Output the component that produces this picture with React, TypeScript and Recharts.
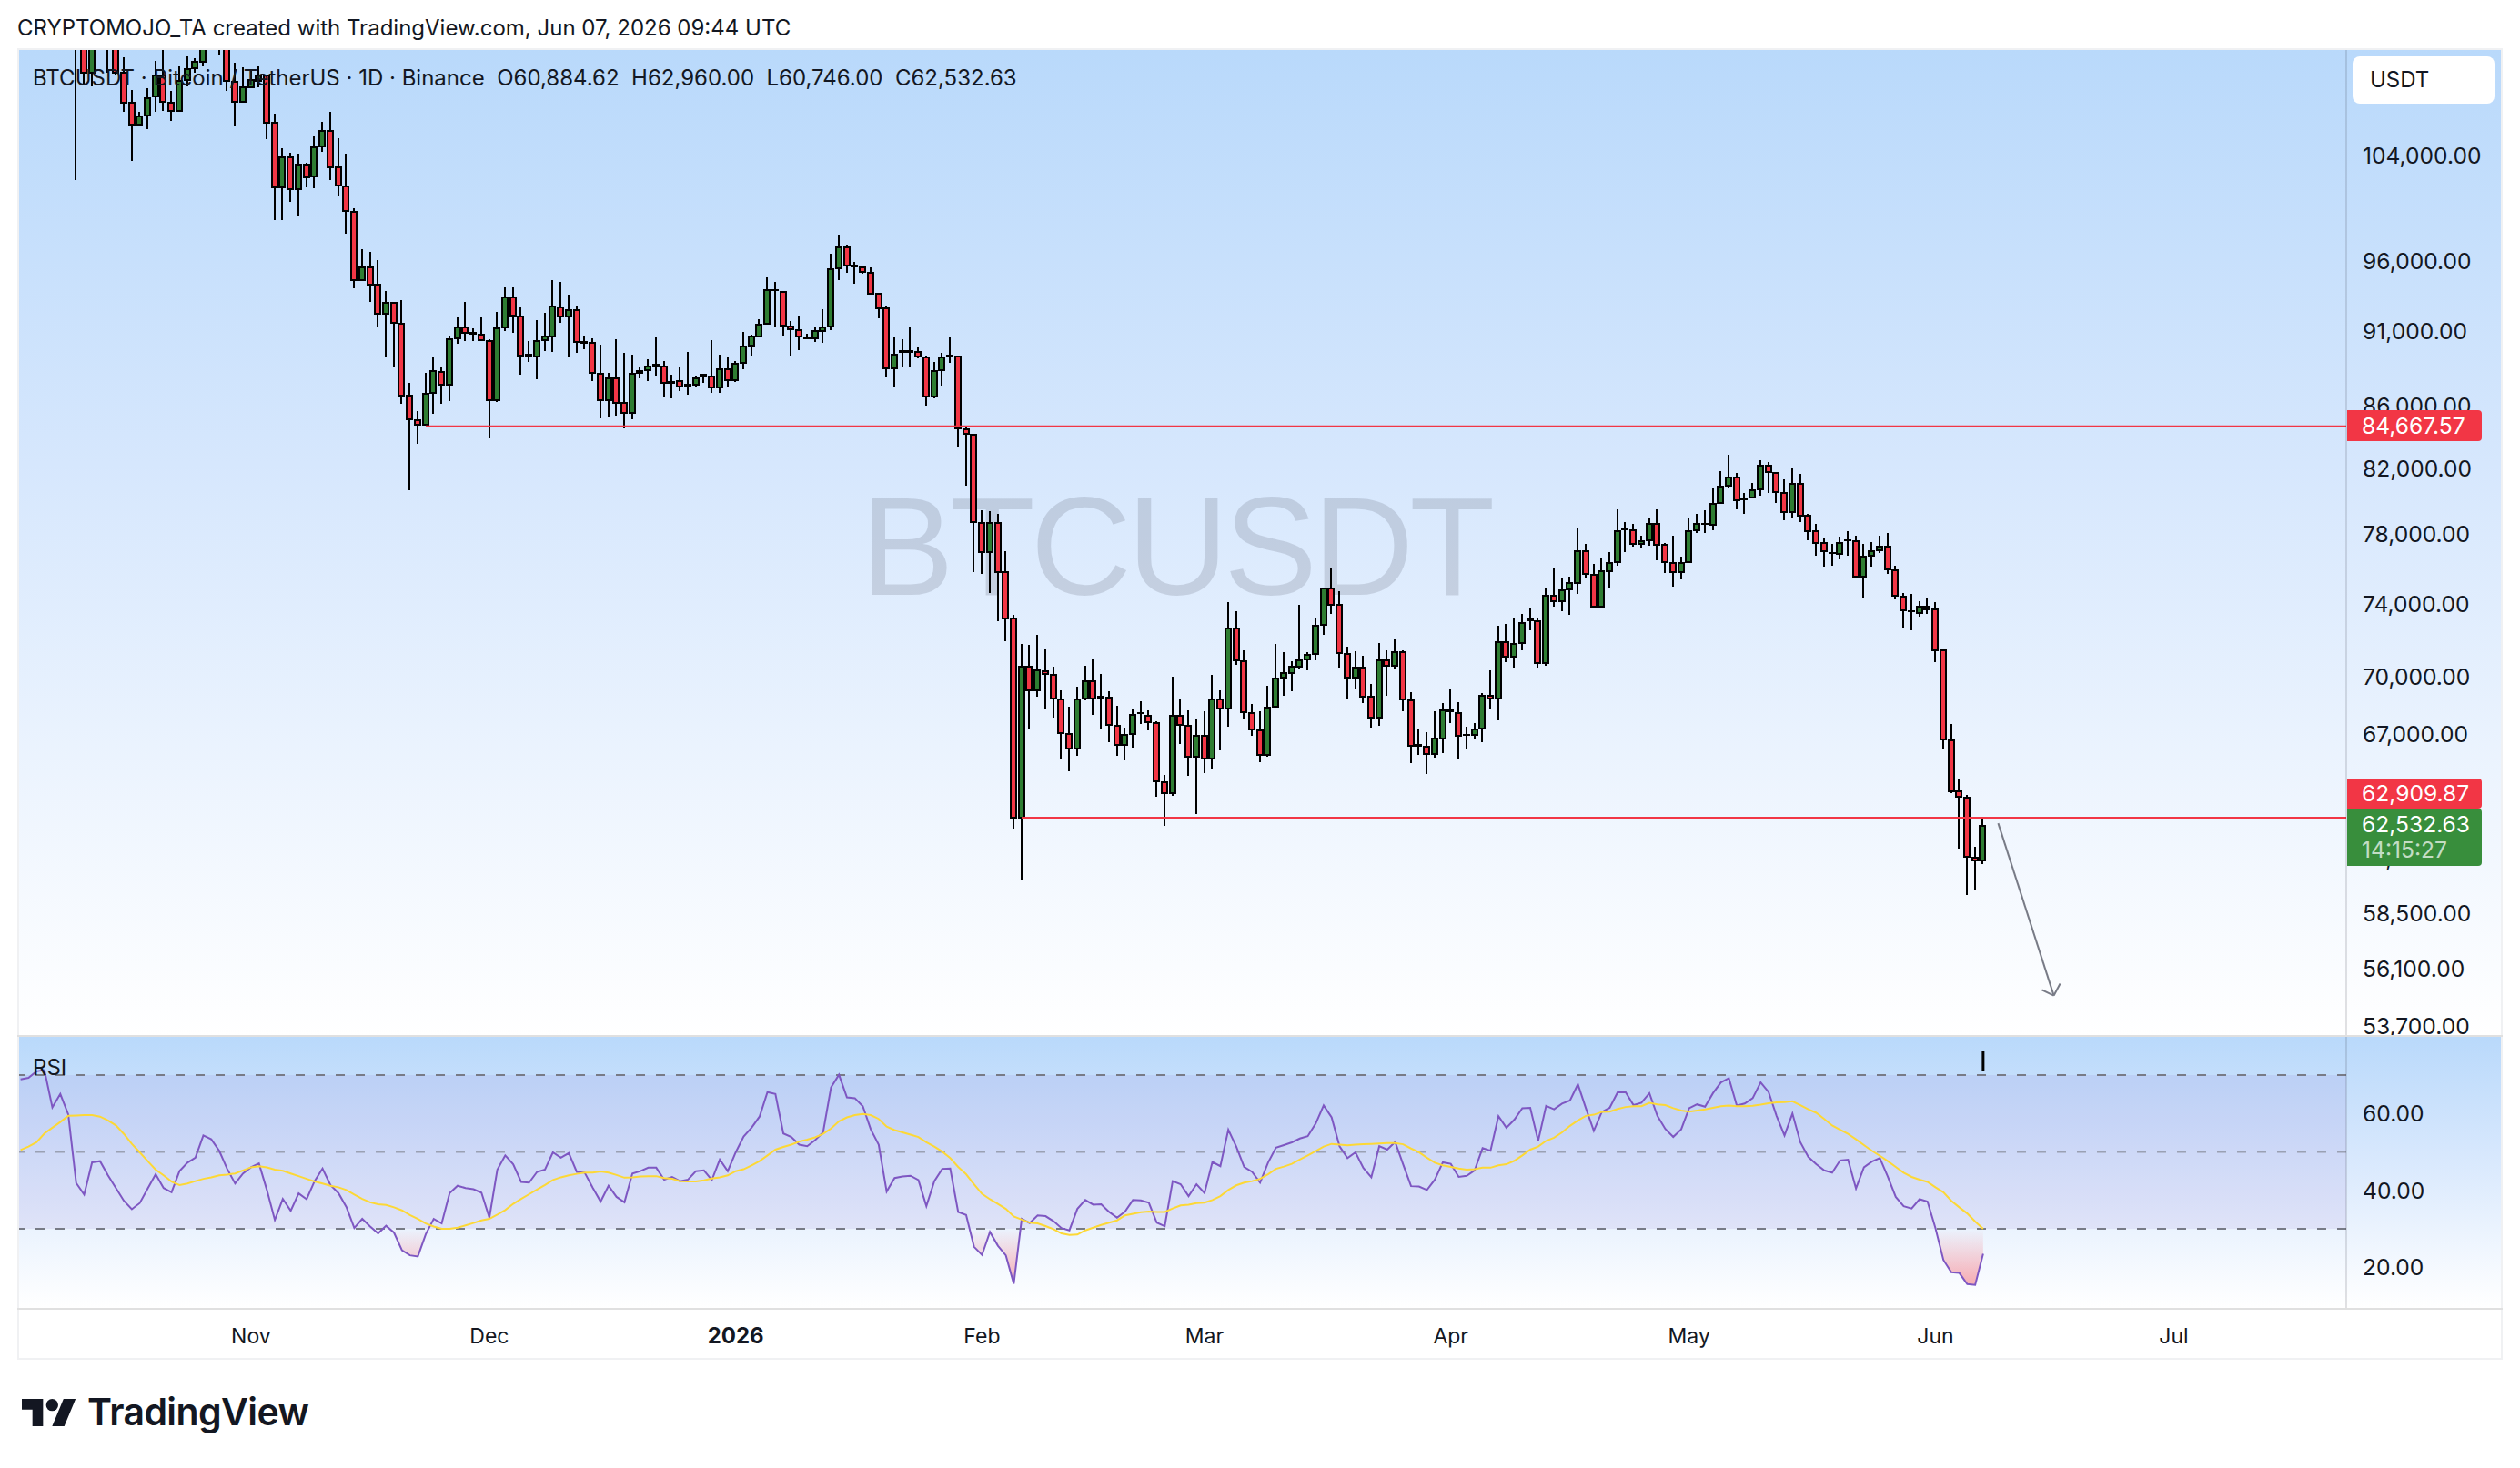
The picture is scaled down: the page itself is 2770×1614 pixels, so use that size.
import React from 'react';
import {
  Area,
  Bar,
  ComposedChart,
  Line,
  ReferenceArea,
  ReferenceLine,
  XAxis,
  YAxis
} from 'recharts';

// day numbers are counted from Nov 1 2025
const firstCandleDay = -22;
const firstRsiDay = -29;

const opens = [
  121000, 113100, 110730, 115000, 115100, 113000, 110730, 108220, 106480, 107240,
  108750, 110540, 108270, 107590, 110120, 111100, 111700, 114500, 114100, 112900,
  110000, 108350, 109560, 110050, 110510, 106580, 101495, 103860, 101370, 103300,
  102370, 104700, 105990, 103040, 101620, 99660, 94600, 95560, 94260, 92200,
  92960, 91550, 86640, 85090, 84780, 86850, 88250, 87390, 90530, 91280,
  90910, 90790, 90350, 86340, 91280, 93400, 92040, 89350, 89300, 90400,
  90630, 92670, 92020, 92500, 90280, 90240, 88140, 86390, 87840, 86190,
  85520, 88160, 88350, 88660, 88630, 87570, 87650, 87330, 87370, 88000,
  87920, 87220, 88440, 87680, 88830, 90020, 90640, 91500, 93900, 93740,
  91360, 91110, 90590, 90530, 91020, 91330, 95440, 96970, 95690, 95550,
  95150, 93630, 92600, 88470, 89610, 89680, 89610, 89240, 86590, 88360,
  89360, 89300, 84500, 84150, 78700, 76945, 78700, 75780, 73170, 62890,
  70560, 69280, 70320, 70130, 68830, 67050, 66300, 68860, 69790, 68940,
  68890, 67470, 66470, 67030, 68090, 67980, 67600, 64630, 64090, 67980,
  67470, 65870, 66960, 65800, 68830, 68340, 72640, 70860, 68120, 67220,
  65980, 68440, 69960, 70210, 70540, 70930, 71230, 72810, 74880, 73920,
  71250, 69960, 70520, 68940, 67870, 70910, 70600, 71310, 68770, 66470,
  66370, 66040, 66800, 68260, 68120, 66980, 66980, 67310, 69020, 68870,
  71900, 71100, 71830, 73100, 73050, 70750, 74430, 74150, 74800, 75170,
  77030, 75670, 73830, 75860, 76390, 78300, 78260, 77440, 77640, 78650,
  77370, 76350, 75800, 76390, 78240, 78620, 78570, 79870, 80930, 81420,
  80120, 80200, 80700, 82200, 81750, 80520, 79360, 81080, 79090, 78170,
  77480, 76900, 76840, 77640, 77620, 75530, 76740, 77050, 77300, 75930,
  74410, 73570, 73490, 73860, 73660, 71410, 66730, 64170, 63890, 61020,
  60884.62
];

const highs = [
  122500, 113500, 115800, 115800, 115900, 113600, 112020, 109280, 107500, 109450,
  111750, 113200, 109226, 111310, 112110, 112000, 113800, 116400, 116000, 113600,
  111580, 111200, 111050, 111310, 110510, 107320, 104540, 104240, 104140, 103420,
  105520, 106700, 107500, 105340, 104140, 99910, 96880, 96640, 96040, 93840,
  92960, 93170, 87490, 85650, 88180, 89280, 88530, 90680, 91950, 93060,
  91240, 92020, 90460, 92360, 94160, 94100, 92720, 90350, 91750, 92270,
  94620, 94490, 93550, 92830, 90680, 90520, 90100, 88180, 90450, 89520,
  89400, 88600, 89100, 90600, 88950, 88060, 88600, 89600, 88000, 88130,
  90400, 89400, 89200, 88970, 90970, 90780, 91840, 94810, 94490, 93740,
  91720, 92100, 90850, 91330, 92550, 96550, 97940, 97200, 95940, 95650,
  95530, 93630, 92830, 90600, 90450, 91280, 89970, 89350, 88910, 89520,
  90650, 89300, 84650, 84150, 79450, 79400, 79220, 77000, 73380, 71780,
  71720, 72250, 71480, 70560, 69300, 68450, 69480, 70600, 70970, 70150,
  69250, 68490, 67360, 68340, 68720, 68250, 67670, 65000, 70010, 68860,
  68250, 67780, 68220, 70110, 69300, 74080, 73600, 71440, 68590, 68220,
  69540, 71780, 71350, 70840, 73940, 71330, 73240, 74880, 76000, 74700,
  71610, 71390, 71120, 69630, 71840, 71430, 72020, 71430, 69210, 67300,
  67130, 68200, 68620, 69330, 68660, 67400, 67600, 69160, 70360, 72780,
  72880, 73190, 73450, 73790, 73190, 74920, 76070, 75450, 75550, 78360,
  77440, 76280, 76600, 76970, 79500, 78710, 78640, 77930, 79020, 79510,
  77510, 77930, 76700, 78990, 79230, 79420, 80790, 81850, 82860, 81740,
  80500, 81120, 82520, 82390, 81750, 81360, 82070, 81670, 79240, 78640,
  77820, 77440, 77880, 78200, 77930, 77440, 77540, 77930, 78100, 76180,
  74590, 74560, 74150, 74290, 74100, 71410, 67530, 64760, 64000, 61530,
  62960
];

const lows = [
  102100, 109700, 109640, 113600, 110730, 110600, 107470, 103600, 106370, 106130,
  107470, 107560, 106790, 107590, 109640, 110710, 111310, 113800, 112240, 109226,
  106360, 108350, 109560, 109560, 105310, 99025, 99025, 100410, 99370, 101520,
  101450, 104280, 102110, 100830, 98000, 94030, 94600, 93060, 91280, 89280,
  88610, 86140, 80650, 83530, 84780, 85450, 86160, 86320, 90120, 90330,
  90320, 90420, 83880, 86250, 91050, 90910, 88080, 88900, 87760, 89680,
  89570, 91570, 89280, 89550, 89790, 87660, 85190, 85310, 85370, 84540,
  85130, 87840, 87630, 87990, 86580, 86460, 86970, 86700, 87270, 87510,
  86850, 86850, 87270, 87570, 88420, 89350, 90640, 91500, 91300, 90720,
  89350, 89720, 90480, 90300, 90180, 91100, 94620, 95135, 94360, 95070,
  93650, 91906, 87930, 87270, 88540, 88600, 89130, 85990, 86460, 87330,
  88850, 83380, 80920, 75780, 75700, 74620, 73010, 71950, 62370, 60040,
  67330, 68940, 68350, 67850, 65750, 65140, 65930, 68790, 68030, 67330,
  66630, 65930, 65700, 66330, 67540, 67240, 63920, 62530, 63940, 66540,
  64950, 63060, 65090, 65260, 66190, 67420, 70670, 67780, 66960, 65630,
  65870, 68440, 69030, 69250, 70450, 70370, 70910, 72290, 73450, 70520,
  68850, 69410, 68620, 67380, 67450, 69000, 70430, 68180, 65590, 65990,
  65040, 65840, 66050, 67610, 65770, 66320, 66820, 66640, 68300, 67750,
  70770, 70520, 71450, 72540, 70520, 70610, 73860, 73570, 73360, 74570,
  75510, 73830, 73760, 74880, 76190, 76980, 77300, 77190, 77350, 76510,
  75730, 74990, 75360, 76390, 78100, 78100, 78270, 79870, 80800, 79510,
  79250, 80200, 80330, 80520, 79910, 78820, 78960, 78710, 77680, 76770,
  76090, 76190, 76550, 76770, 75410, 74310, 76140, 76900, 75720, 74260,
  72640, 72540, 73270, 73450, 70770, 66240, 64070, 61450, 59330, 59560,
  60746
];

const closes = [
  113200, 110730, 115000, 115100, 113000, 110730, 108270, 106480, 107160, 108640,
  110540, 108350, 107590, 110050, 111050, 111650, 113200, 114100, 112900, 110050,
  108350, 109560, 110100, 110510, 106630, 101495, 103860, 101370, 103300, 102320,
  104670, 105990, 103090, 101640, 99720, 94600, 95560, 94280, 92200, 92960,
  91570, 86680, 85110, 84780, 86810, 88290, 87390, 90480, 91280, 90910,
  90850, 90420, 86340, 91240, 93400, 92090, 89350, 89400, 90350, 90620,
  92710, 92020, 92500, 90280, 90220, 88180, 86390, 87840, 86210, 85520,
  88140, 88320, 88630, 88700, 87510, 87510, 87270, 87390, 87840, 88050,
  87220, 88440, 87680, 88800, 89980, 90620, 91490, 93890, 93900, 91390,
  91140, 90640, 90530, 91000, 91300, 95420, 96970, 95650, 95620, 95180,
  93650, 92630, 88470, 89430, 89660, 89600, 89260, 86590, 88320, 89240,
  89320, 84540, 84170, 78740, 76945, 78700, 75780, 73190, 62890, 70560,
  69280, 70340, 70170, 68860, 67070, 66300, 68830, 69790, 68860, 68880,
  67490, 66470, 66990, 68030, 68130, 67630, 64670, 64090, 67980, 67490,
  65870, 66960, 65800, 68830, 68340, 72640, 70890, 68160, 67260, 65980,
  68400, 69920, 70190, 70540, 70910, 71200, 72790, 74880, 73950, 71290,
  69960, 70520, 68960, 67870, 70910, 70600, 71310, 68810, 66440, 66450,
  66040, 66780, 68270, 68210, 66950, 67000, 67280, 69030, 68870, 71900,
  71100, 71800, 72940, 73130, 70750, 74430, 74150, 74780, 75150, 77030,
  75690, 73830, 75830, 76350, 78170, 78330, 77430, 77620, 78650, 77390,
  76370, 75800, 76350, 78220, 78620, 78650, 79850, 80910, 81420, 80050,
  80160, 80680, 82200, 81770, 80530, 79360, 81080, 79110, 78190, 77500,
  77000, 76930, 77510, 77660, 75530, 76720, 77030, 77300, 75950, 74440,
  73630, 73600, 73860, 73690, 71440, 66760, 64190, 63930, 61070, 60900,
  62532.63
];

const rsiValues = [
  68.9, 69.3, 71.0, 71.3, 61.6, 65.1, 59.8, 41.9, 38.9, 47.3,
  47.6, 43.9, 40.6, 37.3, 35.1, 36.7, 40.5, 44.2, 40.6, 39.5,
  45.0, 47.2, 48.5, 54.3, 53.3, 50.3, 45.6, 41.8, 44.4, 46.0,
  47.0, 40.1, 32.3, 37.8, 34.7, 39.2, 37.7, 42.4, 45.7, 41.4,
  39.3, 35.7, 30.2, 32.6, 30.6, 28.8, 30.8, 29.0, 24.4, 23.1,
  22.8, 28.6, 32.6, 31.4, 39.3, 41.2, 40.6, 40.3, 39.4, 32.9,
  45.4, 49.1, 46.8, 42.2, 42.0, 44.8, 45.4, 49.9, 48.5, 49.7,
  44.8, 44.6, 40.7, 37.1, 41.2, 38.3, 36.9, 44.4, 45.0, 45.9,
  45.9, 42.8, 43.5, 42.4, 42.8, 45.0, 45.2, 42.7, 48.0, 45.0,
  49.9, 54.0, 56.3, 59.2, 65.6, 65.1, 54.8, 53.9, 51.9, 51.5,
  53.1, 55.1, 66.8, 70.1, 64.2, 64.0, 61.9, 55.9, 51.9, 39.7,
  43.2, 43.6, 43.8, 42.7, 35.9, 42.4, 45.6, 45.7, 34.4, 33.6,
  25.3, 23.2, 29.2, 25.6, 23.1, 15.7, 32.6, 31.5, 33.5, 33.3,
  32.0, 30.2, 29.6, 35.2, 37.5, 36.3, 36.4, 34.4, 32.9, 34.5,
  37.5, 37.4, 36.8, 31.6, 30.7, 42.4, 41.6, 38.5, 41.6, 39.3,
  47.4, 46.3, 55.8, 51.4, 46.1, 44.8, 42.0, 47.2, 51.1, 51.8,
  52.5, 53.5, 54.1, 57.4, 62.1, 59.0, 51.5, 48.4, 49.9, 45.8,
  43.4, 51.5, 50.6, 52.6, 46.8, 41.1, 41.0, 40.1, 42.8, 47.3,
  46.9, 43.5, 43.8, 45.2, 51.0, 50.3, 59.3, 56.3, 58.4, 61.4,
  61.5, 52.9, 62.0, 61.1, 62.6, 63.4, 67.6, 61.4, 55.5, 60.4,
  61.5, 65.5, 65.6, 62.2, 62.8, 65.3, 59.4, 56.0, 53.9, 55.9,
  61.4, 62.4, 61.8, 65.3, 68.1, 69.2, 62.1, 62.6, 64.0, 68.1,
  65.6, 59.4, 54.3, 60.0, 52.5, 48.7, 46.8, 45.2, 44.6, 47.8,
  48.0, 40.5, 46.0, 47.5, 48.4, 43.6, 38.3, 35.9, 35.3, 37.7,
  37.1, 30.2, 21.9, 18.7, 18.5, 15.6, 15.4, 23.5
];

const rsiAverage = [
  50.5, 51.4, 52.5, 54.8, 56.3, 57.8, 59.4, 59.5, 59.6, 59.6,
  59.2, 58.2, 56.9, 54.7, 52.1, 49.9, 47.6, 45.4, 43.9, 42.3,
  41.4, 41.8, 42.4, 43.0, 43.4, 43.9, 44.1, 44.4, 45.2, 46.0,
  46.3, 46.0, 45.4, 45.1, 44.4, 43.7, 43.0, 42.3, 41.8, 41.2,
  40.8, 40.1, 38.9, 37.8, 36.9, 36.4, 36.2, 35.6, 34.8, 33.6,
  32.6, 31.4, 30.6, 30.0, 30.0, 30.3, 30.9, 31.5, 32.2, 32.6,
  33.7, 34.9, 36.5, 37.8, 39.0, 40.2, 41.4, 42.7, 43.4, 43.9,
  44.3, 44.6, 44.6, 44.9, 44.6, 44.0, 43.3, 43.4, 43.6, 43.7,
  43.7, 43.2, 43.0, 42.4, 42.3, 42.3, 42.6, 43.1, 43.4, 43.9,
  45.0, 45.5, 46.5, 47.6, 49.1, 50.6, 51.3, 51.9, 52.7, 53.2,
  53.8, 54.7, 56.1, 58.0, 59.0, 59.6, 59.9,
  59.6, 58.6, 56.6, 55.7, 55.1, 54.5, 53.9, 52.5, 51.4, 50.1,
  48.4, 46.1, 44.2, 41.6, 39.1, 37.7, 36.5, 35.2, 33.2, 32.4,
  31.6, 31.4, 30.7, 29.9, 28.8, 28.4, 28.5, 29.6, 30.3, 31.0,
  31.6, 32.2, 33.5, 33.9, 34.3, 34.5, 34.4, 34.4, 35.3, 36.1,
  36.3, 36.7, 36.8, 37.5, 38.5, 40.1, 41.3, 42.0, 42.4, 43.0,
  44.2, 45.6, 46.2, 46.9, 48.0, 49.1, 50.2, 51.4, 52.1, 51.9,
  51.7, 51.9, 52.0, 52.1, 52.2, 52.3, 52.3, 52.0, 50.9, 49.9,
  48.5, 47.2, 46.5, 46.1, 45.7, 45.4, 45.5, 45.9, 45.9, 46.5,
  46.8, 47.7, 49.1, 50.6, 51.4, 52.9, 53.7, 55.1, 56.8, 58.2,
  59.4, 59.7, 60.4, 60.5, 61.2, 61.7, 61.9,
  61.9, 62.8, 62.4, 62.2, 61.4, 60.8, 60.5, 60.8, 61.1, 61.5,
  61.9, 62.1, 61.9, 61.9, 62.0, 62.3, 62.7, 62.9, 63.0, 63.2,
  62.2, 61.1, 60.2, 58.6, 56.9, 55.8, 54.7, 53.3, 51.8, 50.3,
  49.0, 47.6, 46.1, 44.6, 43.5, 42.8, 42.2, 40.8, 39.5, 37.3,
  35.6, 34.0, 31.9, 30.0
];

const priceTicks = [104000, 96000, 91000, 86000, 82000, 78000, 74000, 70000, 67000, 61000, 58500, 56100, 53700];
const rsiTicks = [20, 40, 60];
const monthDays = [0, 30, 61, 92, 120, 151, 181, 212, 242];
const monthLabels = ['Nov', 'Dec', '2026', 'Feb', 'Mar', 'Apr', 'May', 'Jun', 'Jul'];

const upperLevel = 84667.57;
const lowerLevel = 62909.87;

const dayDomain: [number, number] = [-29.3, 263.7];
const priceDomain: [number, number] = [53300, 112750];
const rsiDomain: [number, number] = [9.4, 80.2];

const RED = '#F23645';
const GREEN = '#2E7D32';
const INK = '#131722';
const AXIS_LINE = 'rgba(42,46,57,0.14)';
const FONT = 'Inter, "Liberation Sans", sans-serif';
const PANE_BG = 'linear-gradient(180deg, #B9D9FB 0%, #D6E7FD 42%, #FFFFFF 100%)';
const AXIS_FONT = 24.6;

const candleRows = opens.map((open, i) => ({
  day: firstCandleDay + i,
  open,
  high: highs[i],
  low: lows[i],
  close: closes[i]
}));

const rsiRows = rsiValues.map((rsi, i) => ({
  day: firstRsiDay + i,
  rsi,
  average: rsiAverage[i]
}));

const formatPrice = (v: number) =>
  v.toLocaleString('en-US', { minimumFractionDigits: 2, maximumFractionDigits: 2 });

// body is placed between high and low on the log axis
const Candle = (props: any) => {
  const { x, y, width, height, payload } = props;
  const { open, high, low, close } = payload;
  const span = Math.log(high) - Math.log(low);
  const yOf = (p: number) => y + (height * (Math.log(high) - Math.log(p))) / span;
  const cx = Math.round(x + width / 2);
  const top = yOf(Math.max(open, close));
  const bottom = yOf(Math.min(open, close));
  return (
    <g shapeRendering="crispEdges">
      <line x1={cx} x2={cx} y1={y} y2={y + height} stroke="#000" strokeWidth={2} />
      <rect
        x={cx - 3}
        y={top}
        width={6}
        height={Math.max(bottom - top, 0.5)}
        fill={close >= open ? GREEN : RED}
        stroke="#000"
        strokeWidth={2}
      />
    </g>
  );
};

const MonthTick = (props: any) => {
  const { x, y, payload } = props;
  const label = monthLabels[monthDays.indexOf(payload.value)];
  return (
    <text
      x={x}
      y={y}
      dy={31}
      textAnchor="middle"
      fontFamily={FONT}
      fontSize={label === '2026' ? 24 : 23}
      fontWeight={label === '2026' ? 700 : 400}
      fill={INK}
    >
      {label}
    </text>
  );
};

const PriceTag = ({ top, height, bg, children }: any) => (
  <div
    style={{
      position: 'absolute',
      left: 2580,
      top,
      width: 148,
      height,
      background: bg,
      borderRadius: '0 4px 4px 0',
      color: '#fff',
      fontSize: AXIS_FONT,
      paddingLeft: 16,
      boxSizing: 'border-box'
    }}
  >
    {children}
  </div>
);

const PriceChart = () => (
  <ComposedChart
    width={2730}
    height={1085}
    data={candleRows}
    margin={{ top: 0, right: 0, bottom: 0, left: 0 }}
  >
    <XAxis dataKey="day" type="number" domain={dayDomain} hide allowDataOverflow />
    <YAxis
      orientation="right"
      width={171}
      scale="log"
      domain={priceDomain}
      allowDataOverflow
      ticks={priceTicks}
      interval={0}
      tickFormatter={formatPrice}
      tickLine={false}
      tickMargin={12}
      axisLine={{ stroke: AXIS_LINE, strokeWidth: 2 }}
      tick={{ fill: INK, fontSize: AXIS_FONT, fontFamily: FONT }}
    />
    <Bar
      dataKey={(row: any) => [row.low, row.high]}
      barSize={8}
      shape={<Candle />}
      isAnimationActive={false}
    />
    <ReferenceLine
      segment={[{ x: 22, y: upperLevel }, { x: dayDomain[1], y: upperLevel }]}
      stroke={RED}
      strokeWidth={2}
    />
    <ReferenceLine
      segment={[{ x: 97, y: lowerLevel }, { x: dayDomain[1], y: lowerLevel }]}
      stroke={RED}
      strokeWidth={2}
    />
    <ReferenceLine segment={[{ x: 219.9, y: 62640 }, { x: 226.9, y: 54960 }]} stroke="#787B86" strokeWidth={2} />
    <ReferenceLine segment={[{ x: 225.4, y: 55200 }, { x: 226.9, y: 54960 }]} stroke="#787B86" strokeWidth={2} />
    <ReferenceLine segment={[{ x: 227.7, y: 55460 }, { x: 226.9, y: 54960 }]} stroke="#787B86" strokeWidth={2} />
  </ComposedChart>
);

const RsiChart = () => {
  const plotHeight = 299;
  const yOfRsi = (v: number) => (plotHeight * (rsiDomain[1] - v)) / (rsiDomain[1] - rsiDomain[0]);
  return (
    <ComposedChart
      width={2730}
      height={354}
      data={rsiRows}
      margin={{ top: 0, right: 0, bottom: 0, left: 0 }}
    >
      <defs>
        <linearGradient
          id="oversoldFill"
          gradientUnits="userSpaceOnUse"
          x1="0"
          x2="0"
          y1={yOfRsi(30)}
          y2={yOfRsi(15)}
        >
          <stop offset="0" stopColor="#F23645" stopOpacity={0} />
          <stop offset="1" stopColor="#F23645" stopOpacity={0.42} />
        </linearGradient>
      </defs>
      <XAxis
        dataKey="day"
        type="number"
        domain={dayDomain}
        ticks={monthDays}
        interval={0}
        height={55}
        tick={<MonthTick />}
        tickLine={false}
        axisLine={false}
        allowDataOverflow
      />
      <YAxis
        orientation="right"
        width={171}
        domain={rsiDomain}
        allowDataOverflow
        ticks={rsiTicks}
        interval={0}
        tickFormatter={formatPrice}
        tickLine={false}
        tickMargin={12}
        axisLine={{ stroke: AXIS_LINE, strokeWidth: 2 }}
        tick={{ fill: INK, fontSize: AXIS_FONT, fontFamily: FONT }}
      />
      <ReferenceArea y1={30} y2={70} fill="#7E57C2" fillOpacity={0.1} stroke="none" />
      <ReferenceLine y={70} stroke="#787B86" strokeWidth={2} strokeDasharray="10 12" />
      <ReferenceLine y={50} stroke="#787B86" strokeOpacity={0.6} strokeWidth={2} strokeDasharray="10 12" />
      <ReferenceLine y={30} stroke="#787B86" strokeWidth={2} strokeDasharray="10 12" />
      <Area
        type="linear"
        dataKey="rsi"
        baseValue={30}
        stroke="none"
        fill="url(#oversoldFill)"
        fillOpacity={1}
        dot={false}
        activeDot={false}
        isAnimationActive={false}
      />
      <Line type="linear" dataKey="rsi" stroke="#7E57C2" strokeWidth={2} dot={false} isAnimationActive={false} />
      <Line type="linear" dataKey="average" stroke="#FDD835" strokeWidth={2} dot={false} isAnimationActive={false} />
      <ReferenceLine segment={[{ x: 218, y: 76.2 }, { x: 218, y: 71.2 }]} stroke="#000" strokeWidth={3} />
    </ComposedChart>
  );
};

const TvLogo = () => (
  <svg
    viewBox="0 0 36 18"
    width={60}
    height={30}
    style={{ position: 'absolute', left: 24, top: 1538 }}
  >
    <path d="M14 18H7V7H0V0h14v18ZM28 18h-8L27.5 0h8L28 18Z" fill="#131722" />
    <circle cx="20" cy="4" r="4" fill="#131722" />
  </svg>
);

export default function App() {
  return (
    <div
      style={{
        position: 'absolute',
        left: 0,
        top: 0,
        width: 2770,
        height: 1614,
        background: '#fff',
        fontFamily: FONT,
        color: INK,
        overflow: 'hidden'
      }}
    >
      <div style={{ position: 'absolute', left: 19, top: 16, fontSize: 24, whiteSpace: 'nowrap' }}>
        CRYPTOMOJO_TA created with TradingView.com, Jun 07, 2026 09:44 UTC
      </div>

      {/* price pane */}
      <div
        style={{
          position: 'absolute',
          left: 20,
          top: 54,
          width: 2730,
          height: 1085,
          background: PANE_BG,
          overflow: 'hidden'
        }}
      >
        <div
          style={{
            position: 'absolute',
            left: 926,
            top: 447,
            fontSize: 154,
            letterSpacing: -5,
            lineHeight: '200px',
            fontFamily: '"Liberation Sans", sans-serif',
            color: 'rgba(19,23,34,0.135)',
            whiteSpace: 'nowrap'
          }}
        >
          BTCUSDT
        </div>
        <div style={{ position: 'absolute', left: 0, top: 0 }}>
          <PriceChart />
        </div>
      </div>

      <div style={{ position: 'absolute', left: 36, top: 71, fontSize: 24, whiteSpace: 'pre' }}>
        {'BTCUSDT · Bitcoin / TetherUS · 1D · Binance  O60,884.62  H62,960.00  L60,746.00  C62,532.63'}
      </div>

      <div
        style={{
          position: 'absolute',
          left: 2586,
          top: 62,
          width: 156,
          height: 52,
          background: '#fff',
          borderRadius: 8,
          fontSize: 24,
          lineHeight: '52px',
          paddingLeft: 19,
          boxSizing: 'border-box'
        }}
      >
        USDT
      </div>

      <PriceTag top={451} height={34} bg={RED}>
        <div style={{ lineHeight: '34px' }}>84,667.57</div>
      </PriceTag>
      <PriceTag top={856} height={33} bg={RED}>
        <div style={{ lineHeight: '33px' }}>62,909.87</div>
      </PriceTag>
      <PriceTag top={889} height={63} bg="#388E3C">
        <div style={{ lineHeight: '30px', marginTop: 2 }}>62,532.63</div>
        <div style={{ lineHeight: '26px', opacity: 0.7 }}>14:15:27</div>
      </PriceTag>

      {/* rsi pane + time axis */}
      <div
        style={{
          position: 'absolute',
          left: 20,
          top: 1139,
          width: 2730,
          height: 299,
          background: PANE_BG
        }}
      />
      <div style={{ position: 'absolute', left: 20, top: 1139 }}>
        <RsiChart />
      </div>
      <div style={{ position: 'absolute', left: 36, top: 1159, fontSize: 24 }}>RSI</div>

      {/* frame */}
      <div
        style={{
          position: 'absolute',
          left: 19,
          top: 53,
          width: 2732,
          height: 1442,
          border: '2px solid #F0F1F3',
          boxSizing: 'border-box',
          pointerEvents: 'none'
        }}
      />
      <div style={{ position: 'absolute', left: 19, top: 1138, width: 2732, height: 2, background: '#E0E0E0' }} />
      <div style={{ position: 'absolute', left: 19, top: 1438, width: 2732, height: 2, background: '#E0E0E0' }} />

      <TvLogo />
      <div
        style={{
          position: 'absolute',
          left: 96,
          top: 1527,
          fontSize: 41,
          fontWeight: 600,
          letterSpacing: -0.6,
          color: '#131722',
          whiteSpace: 'nowrap'
        }}
      >
        TradingView
      </div>
    </div>
  );
}
